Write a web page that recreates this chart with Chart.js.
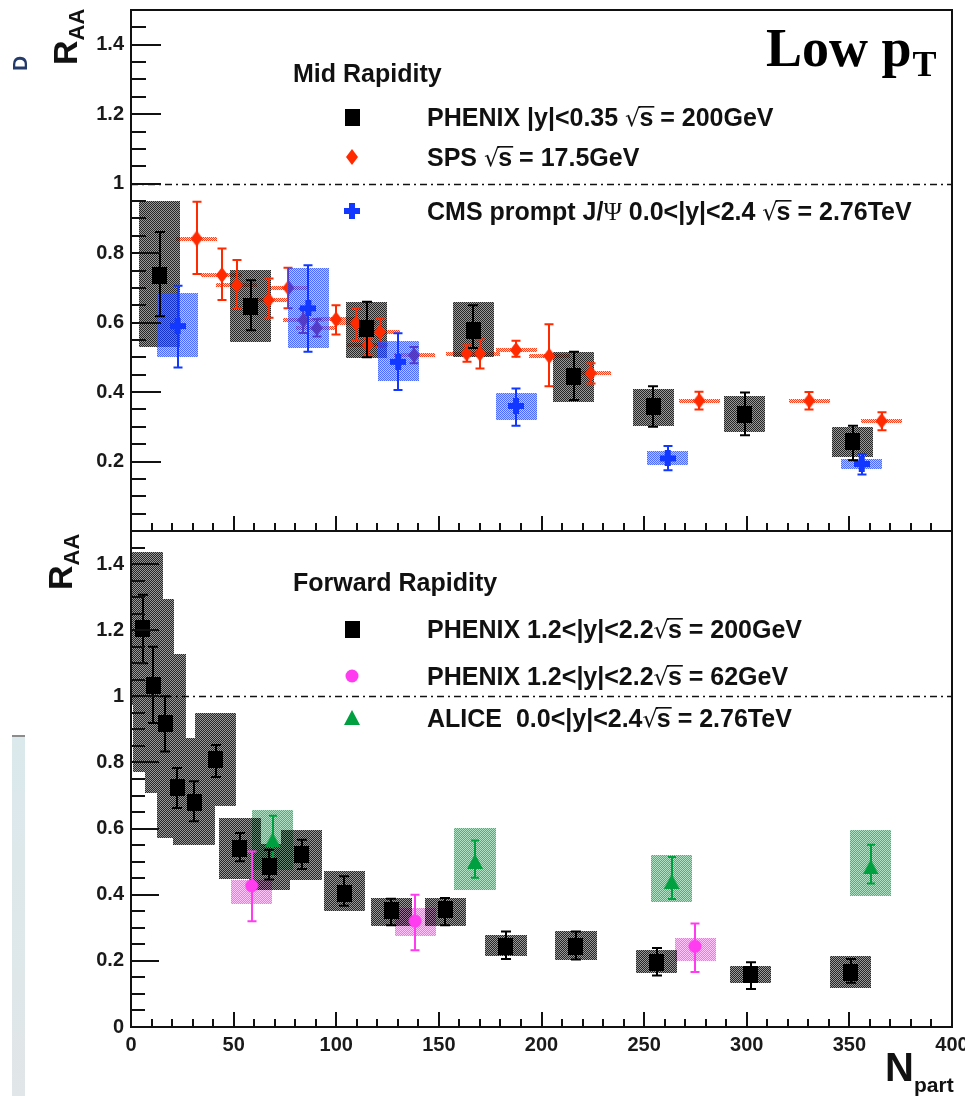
<!DOCTYPE html>
<html>
<head>
<meta charset="utf-8">
<script src="https://cdn.jsdelivr.net/npm/chart.js@4.4.0/dist/chart.umd.min.js"></script>
<style>
  html, body { margin: 0; padding: 0; background: #fff; }
  #wrap { position: relative; width: 965px; height: 1096px; overflow: hidden; }
  #side { position: absolute; left: 12px; top: 735px; width: 13px; height: 361px;
          background: linear-gradient(#dbe9ec, #e1e6e8); border-top: 2px solid #8c8c8c; }
  #topPad { position: absolute; left: 0; top: 0; }
  #botPad { position: absolute; left: 0; top: 521px; }
</style>
</head>
<body>
<div id="wrap">
  <div id="side"></div>
  <canvas id="topPad" width="965" height="540"></canvas>
  <canvas id="botPad" width="965" height="575"></canvas>
</div>
<script>
// ===== DATA: mid rapidity (top pad) =====
const midPhxN      = [14.1, 58.4, 114.8, 166.8, 215.8, 254.5, 299, 351.6];
const midPhxR      = [0.735, 0.645, 0.583, 0.576, 0.444, 0.358, 0.334, 0.257];
const midPhxStatLo = [0.618, 0.578, 0.50, 0.527, 0.377, 0.30, 0.276, 0.204];
const midPhxStatHi = [0.861, 0.722, 0.66, 0.65, 0.516, 0.417, 0.399, 0.303];
const midPhxSysLo  = [0.53, 0.545, 0.497, 0.50, 0.372, 0.302, 0.284, 0.214];
const midPhxSysHi  = [0.95, 0.751, 0.66, 0.66, 0.516, 0.408, 0.389, 0.30];

const spsN      = [32, 44.3, 51.5, 67, 76.7, 84, 90.5, 99.9, 109.6, 115.3, 121.3, 137.9, 163.5, 170, 187.6, 203.8, 224, 276.9, 330.5, 365.7];
const spsR      = [0.842, 0.737, 0.708, 0.665, 0.70, 0.607, 0.584, 0.609, 0.598, 0.535, 0.573, 0.506, 0.511, 0.511, 0.521, 0.504, 0.454, 0.375, 0.375, 0.317];
const spsStatLo = [0.74, 0.665, 0.642, 0.614, 0.641, 0.57, 0.56, 0.566, 0.55, 0.506, 0.53, 0.483, 0.487, 0.468, 0.502, 0.417, 0.425, 0.35, 0.35, 0.29];
const spsStatHi = [0.948, 0.813, 0.78, 0.727, 0.758, 0.64, 0.61, 0.65, 0.641, 0.555, 0.612, 0.53, 0.535, 0.552, 0.548, 0.595, 0.483, 0.401, 0.40, 0.342];

const cmsN      = [22.7, 86.4, 130.2, 187.6, 261.5, 356];
const cmsR      = [0.59, 0.641, 0.487, 0.36, 0.209, 0.193];
const cmsStatLo = [0.471, 0.516, 0.406, 0.303, 0.175, 0.163];
const cmsStatHi = [0.706, 0.765, 0.569, 0.41, 0.245, 0.222];
const cmsSysLo  = [0.502, 0.526, 0.432, 0.319, 0.19, 0.178];
const cmsSysHi  = [0.684, 0.756, 0.548, 0.396, 0.231, 0.206];

// ===== DATA: forward rapidity (bottom pad) =====
const fwdPhxN      = [5.7, 10.9, 16.6, 22.6, 30.7, 41.4, 53.1, 67.4, 83.2, 103.9, 126.7, 153, 182.7, 216.8, 256.1, 301.9, 350.6];
const fwdPhxR      = [1.206, 1.033, 0.917, 0.723, 0.679, 0.808, 0.541, 0.484, 0.521, 0.405, 0.353, 0.355, 0.244, 0.244, 0.196, 0.159, 0.166];
const fwdPhxStatLo = [1.10, 0.919, 0.833, 0.662, 0.622, 0.756, 0.501, 0.446, 0.478, 0.367, 0.308, 0.308, 0.206, 0.204, 0.156, 0.115, 0.134];
const fwdPhxStatHi = [1.307, 1.15, 1.0, 0.783, 0.743, 0.853, 0.587, 0.536, 0.566, 0.456, 0.388, 0.39, 0.289, 0.289, 0.239, 0.196, 0.206];
const fwdPhxSysLo  = [0.975, 0.772, 0.707, 0.572, 0.55, 0.667, 0.448, 0.415, 0.446, 0.35, 0.305, 0.305, 0.216, 0.204, 0.164, 0.134, 0.118];
const fwdPhxSysHi  = [1.437, 1.294, 1.127, 0.874, 0.81, 0.949, 0.632, 0.553, 0.597, 0.471, 0.39, 0.39, 0.277, 0.289, 0.234, 0.184, 0.216];

const phx62N      = [58.8, 138.4, 274.8];
const phx62R      = [0.427, 0.32, 0.244];
const phx62StatLo = [0.32, 0.232, 0.166];
const phx62StatHi = [0.531, 0.40, 0.313];
const phx62SysLo  = [0.373, 0.274, 0.199];
const phx62SysHi  = [0.446, 0.36, 0.27];

const aliceN      = [69, 167.6, 263.4, 360.4];
const aliceR      = [0.566, 0.501, 0.44, 0.484];
const aliceStatLo = [0.501, 0.451, 0.387, 0.434];
const aliceStatHi = [0.639, 0.564, 0.514, 0.551];
const aliceSysLo  = [0.475, 0.415, 0.377, 0.397];
const aliceSysHi  = [0.657, 0.602, 0.521, 0.595];

const BOX_HALF = 10;          // half width of systematic boxes, in Npart
const BOT_TOP = 521;          // offset of the bottom canvas

const C_RED = '#ff2a00', C_BLUE = '#1238ff', C_MAG = '#ff3cf0', C_GREEN = '#00a040';
const LABEL_FONT = 'bold 25px "Liberation Sans"';
const ROOT_S = '\u221As', PSI = '\u03A8';

Chart.defaults.font.family = '"Liberation Sans", Arial, sans-serif';

// ----- marker images -----
function mk(w, h, draw) {
  const c = document.createElement('canvas'); c.width = w; c.height = h;
  draw(c.getContext('2d')); return c;
}
const mSquare  = mk(15, 17, g => { g.fillStyle = '#000'; g.fillRect(0, 0, 15, 17); });
const mDiamond = mk(12, 16, g => { g.fillStyle = C_RED; g.beginPath(); g.moveTo(6, 0); g.lineTo(12, 8); g.lineTo(6, 16); g.lineTo(0, 8); g.closePath(); g.fill(); });
const mCross   = mk(16, 16, g => { g.fillStyle = C_BLUE; g.fillRect(5, 0, 6, 16); g.fillRect(0, 5, 16, 6); });
const mCircle  = mk(14, 14, g => { g.fillStyle = C_MAG; g.beginPath(); g.arc(7, 7, 6.5, 0, Math.PI * 2); g.fill(); });
const mTri     = mk(16, 15, g => { g.fillStyle = C_GREEN; g.beginPath(); g.moveTo(8, 0); g.lineTo(16, 15); g.lineTo(0, 15); g.closePath(); g.fill(); });

// soft dotted fill, like ROOT's 3001 style seen at low resolution
function checker(color, hi, lo) {
  return mk(2, 2, g => {
    g.fillStyle = color;
    g.globalAlpha = hi; g.fillRect(0, 0, 1, 1); g.fillRect(1, 1, 1, 1);
    g.globalAlpha = lo; g.fillRect(1, 0, 1, 1); g.fillRect(0, 1, 1, 1);
  });
}

function pts(ns, rs) { return ns.map((n, i) => ({ x: n, y: rs[i] })); }

// ----- drawing helpers -----
function clipArea(chart) {
  const a = chart.chartArea;
  chart.ctx.beginPath(); chart.ctx.rect(a.left, a.top, a.right - a.left, a.bottom - a.top); chart.ctx.clip();
}

// all boxes of one series go into one path, so overlaps don't stack up
function drawBoxes(chart, ns, lo, hi, color, aHi, aLo) {
  const { ctx, scales: { x, y } } = chart;
  ctx.save(); clipArea(chart);
  ctx.fillStyle = ctx.createPattern(checker(color, aHi, aLo), 'repeat');
  ctx.beginPath();
  ns.forEach((n, i) => {
    const x0 = Math.round(x.getPixelForValue(n - BOX_HALF)), x1 = Math.round(x.getPixelForValue(n + BOX_HALF));
    const y0 = Math.round(y.getPixelForValue(hi[i])), y1 = Math.round(y.getPixelForValue(lo[i]));
    ctx.rect(x0, y0, x1 - x0, y1 - y0);
  });
  ctx.fill('nonzero');
  ctx.restore();
}

function drawXHatch(chart, ns, rs, color) {
  const { ctx, scales: { x, y } } = chart;
  ctx.save(); clipArea(chart);
  ctx.fillStyle = ctx.createPattern(checker(color, 0.9, 0.2), 'repeat');
  ctx.beginPath();
  ns.forEach((n, i) => {
    const x0 = Math.round(x.getPixelForValue(n - BOX_HALF)), x1 = Math.round(x.getPixelForValue(n + BOX_HALF));
    const py = Math.round(y.getPixelForValue(rs[i]));
    ctx.rect(x0, py - 2, x1 - x0, 4);
  });
  ctx.fill('nonzero');
  ctx.restore();
}

function drawErrors(chart, ns, lo, hi, color, cap) {
  const { ctx, scales: { x, y } } = chart;
  ctx.save(); clipArea(chart);
  ctx.strokeStyle = color; ctx.lineWidth = 2;
  ctx.beginPath();
  ns.forEach((n, i) => {
    const px = Math.round(x.getPixelForValue(n));
    const y0 = y.getPixelForValue(hi[i]), y1 = y.getPixelForValue(lo[i]);
    ctx.moveTo(px, y0); ctx.lineTo(px, y1);
    ctx.moveTo(px - cap / 2, y0); ctx.lineTo(px + cap / 2, y0);
    ctx.moveTo(px - cap / 2, y1); ctx.lineTo(px + cap / 2, y1);
  });
  ctx.stroke();
  ctx.restore();
}

function drawUnity(chart) {
  const { ctx, chartArea: a, scales: { y } } = chart;
  const py = Math.round(y.getPixelForValue(1)) + 0.5;
  ctx.save();
  ctx.strokeStyle = '#111'; ctx.lineWidth = 1.6; ctx.setLineDash([7, 4, 2, 4]);
  ctx.beginPath(); ctx.moveTo(a.left, py); ctx.lineTo(a.right, py); ctx.stroke();
  ctx.restore();
}

// frame plus inward ROOT-style ticks
function drawFrame(chart, yMaj, yMin) {
  const { ctx, chartArea: a, scales: { x, y } } = chart;
  ctx.save();
  ctx.strokeStyle = '#111'; ctx.lineWidth = 2;
  ctx.strokeRect(a.left, a.top, a.right - a.left, a.bottom - a.top);
  ctx.beginPath();
  for (let k = 1; k < 30; k++) {
    const py = Math.round(y.getPixelForValue(k * 0.05));
    ctx.moveTo(a.left, py); ctx.lineTo(a.left + (k % 4 === 0 ? yMaj : yMin), py);
  }
  for (let k = 1; k < 40; k++) {
    const px = Math.round(x.getPixelForValue(k * 10));
    ctx.moveTo(px, a.bottom); ctx.lineTo(px, a.bottom - (k % 5 === 0 ? 15 : 8));
  }
  ctx.stroke();
  ctx.restore();
}

function drawRow(ctx, x, y, pieces) {
  let cx = x;
  ctx.fillStyle = '#111'; ctx.strokeStyle = '#111';
  ctx.textAlign = 'left'; ctx.textBaseline = 'alphabetic';
  pieces.forEach(p => {
    if (p === ROOT_S) {
      ctx.font = '24px "DejaVu Sans"';
      ctx.fillText('\u221A', cx, y);
      const rw = ctx.measureText('\u221A').width;
      ctx.font = LABEL_FONT;
      const sw = ctx.measureText('s').width;
      ctx.fillText('s', cx + rw - 1, y);
      ctx.fillRect(cx + rw - 2, y - 20, sw + 2, 1.6);
      cx += rw - 1 + sw;
    } else if (p === PSI) {
      ctx.font = '25px "Liberation Serif"';
      ctx.fillText(PSI, cx, y);
      cx += ctx.measureText(PSI).width;
    } else {
      ctx.font = LABEL_FONT;
      ctx.fillText(p, cx, y);
      cx += ctx.measureText(p).width;
    }
  });
}

function drawRAA(ctx, ox, oy) {
  ctx.save();
  ctx.translate(ox, oy); ctx.rotate(-Math.PI / 2);
  ctx.fillStyle = '#111'; ctx.textAlign = 'left'; ctx.textBaseline = 'alphabetic';
  ctx.font = 'bold 34px "Liberation Sans"';
  ctx.fillText('R', 0, 0);
  const w = ctx.measureText('R').width;
  ctx.font = 'bold 22px "Liberation Sans"';
  ctx.fillText('AA', w, 7);
  ctx.restore();
}

function tickLabel(v) { return String(Math.round(v * 10) / 10); }

function baseOptions(padding, showX, hideZero) {
  return {
    responsive: false, animation: false, devicePixelRatio: 1,
    layout: { padding },
    plugins: { legend: { display: false }, tooltip: { enabled: false } },
    scales: {
      x: {
        type: 'linear', min: 0, max: 400, display: showX,
        grid: { display: false, drawTicks: false }, border: { display: false },
        ticks: { stepSize: 50, includeBounds: false, maxRotation: 0, padding: 6, color: '#1a1a1a',
                 font: { size: 20, weight: 'bold' }, callback: v => String(v) },
        afterFit: s => {
          if (showX) s.height = 69;
          s.paddingLeft = 0; s.paddingRight = 0;
        }
      },
      y: {
        type: 'linear', min: 0, max: 1.5,
        grid: { display: false, drawTicks: false }, border: { display: false },
        ticks: { stepSize: 0.2, includeBounds: false, padding: 7, color: '#1a1a1a',
                 font: { size: 20, weight: 'bold' },
                 callback: v => (hideZero && Math.abs(v) < 1e-6) ? '' : tickLabel(v) },
        afterFit: s => { s.width = 131; s.paddingTop = 0; s.paddingBottom = 0; }
      }
    }
  };
}

// ===== top pad: mid rapidity =====
const topPlugin = {
  id: 'midPad',
  beforeDatasetsDraw(chart) {
    drawUnity(chart);
    drawXHatch(chart, spsN, spsR, C_RED);
    drawBoxes(chart, midPhxN, midPhxSysLo, midPhxSysHi, '#000', 0.85, 0.4);
  },
  beforeDatasetDraw(chart, args) {
    if (args.index === 1) drawErrors(chart, spsN, spsStatLo, spsStatHi, C_RED, 9);
    if (args.index === 2) {
      drawBoxes(chart, cmsN, cmsSysLo, cmsSysHi, C_BLUE, 0.75, 0.3);
      drawErrors(chart, cmsN, cmsStatLo, cmsStatHi, C_BLUE, 9);
    }
    if (args.index === 0) drawErrors(chart, midPhxN, midPhxStatLo, midPhxStatHi, '#000', 10);
  },
  afterDraw(chart) {
    const ctx = chart.ctx;
    drawFrame(chart, 30, 15);
    drawRAA(ctx, 77, 65);
    ctx.save();
    ctx.translate(27, 71); ctx.rotate(-Math.PI / 2);
    ctx.fillStyle = '#243a6b'; ctx.font = 'bold 21px "Liberation Sans"';
    ctx.fillText('D', 0, 0);
    ctx.restore();

    ctx.save();
    ctx.fillStyle = '#000'; ctx.textBaseline = 'alphabetic';
    ctx.font = 'bold 54px "Liberation Serif"';
    ctx.fillText('Low p', 766, 66);
    const lw = ctx.measureText('Low p').width;
    ctx.font = 'bold 36px "Liberation Serif"';
    ctx.fillText('T', 766 + lw + 1, 76);

    ctx.font = LABEL_FONT; ctx.fillStyle = '#111';
    ctx.fillText('Mid Rapidity', 293, 82);
    ctx.drawImage(mSquare, 345, 109);
    ctx.drawImage(mDiamond, 346, 149);
    ctx.drawImage(mCross, 344, 203);
    drawRow(ctx, 427, 126, ['PHENIX |y|<0.35 ', ROOT_S, ' = 200GeV']);
    drawRow(ctx, 427, 166, ['SPS ', ROOT_S, ' = 17.5GeV']);
    drawRow(ctx, 427, 220, ['CMS prompt J/', PSI, ' 0.0<|y|<2.4 ', ROOT_S, ' = 2.76TeV']);
    ctx.restore();
  }
};

new Chart(document.getElementById('topPad'), {
  type: 'scatter',
  data: {
    datasets: [
      { label: 'PHENIX |y|<0.35', data: pts(midPhxN, midPhxR), pointStyle: mSquare, pointRadius: 6, order: 1 },
      { label: 'SPS', data: pts(spsN, spsR), pointStyle: mDiamond, pointRadius: 6, order: 3 },
      { label: 'CMS prompt J/psi', data: pts(cmsN, cmsR), pointStyle: mCross, pointRadius: 6, order: 2 }
    ]
  },
  options: baseOptions({ left: 0, right: 13, top: 10, bottom: 9 }, false, true),
  plugins: [topPlugin]
});

// ===== bottom pad: forward rapidity =====
const botPlugin = {
  id: 'fwdPad',
  beforeDatasetsDraw(chart) {
    drawUnity(chart);
    drawBoxes(chart, aliceN, aliceSysLo, aliceSysHi, C_GREEN, 0.75, 0.3);
    drawBoxes(chart, phx62N, phx62SysLo, phx62SysHi, C_MAG, 0.75, 0.3);
    drawBoxes(chart, fwdPhxN, fwdPhxSysLo, fwdPhxSysHi, '#000', 0.85, 0.4);
  },
  beforeDatasetDraw(chart, args) {
    if (args.index === 2) drawErrors(chart, aliceN, aliceStatLo, aliceStatHi, C_GREEN, 8);
    if (args.index === 1) drawErrors(chart, phx62N, phx62StatLo, phx62StatHi, C_MAG, 9);
    if (args.index === 0) drawErrors(chart, fwdPhxN, fwdPhxStatLo, fwdPhxStatHi, '#000', 10);
  },
  afterDraw(chart) {
    const ctx = chart.ctx;
    drawFrame(chart, 28, 14);
    drawRAA(ctx, 72, 590 - BOT_TOP);

    ctx.save();
    ctx.fillStyle = '#111'; ctx.textBaseline = 'alphabetic';
    ctx.font = 'bold 40px "Liberation Sans"';
    ctx.fillText('N', 885, 1081 - BOT_TOP);
    ctx.font = 'bold 21px "Liberation Sans"';
    ctx.fillText('part', 914, 1092 - BOT_TOP);

    ctx.font = LABEL_FONT;
    ctx.fillText('Forward Rapidity', 293, 591 - BOT_TOP);
    ctx.drawImage(mSquare, 345, 621 - BOT_TOP);
    ctx.drawImage(mCircle, 345, 669 - BOT_TOP);
    ctx.drawImage(mTri, 344, 710 - BOT_TOP);
    drawRow(ctx, 427, 638 - BOT_TOP, ['PHENIX 1.2<|y|<2.2', ROOT_S, ' = 200GeV']);
    drawRow(ctx, 427, 685 - BOT_TOP, ['PHENIX 1.2<|y|<2.2', ROOT_S, ' = 62GeV']);
    drawRow(ctx, 427, 727 - BOT_TOP, ['ALICE  0.0<|y|<2.4', ROOT_S, ' = 2.76TeV']);
    ctx.restore();
  }
};

new Chart(document.getElementById('botPad'), {
  type: 'scatter',
  data: {
    datasets: [
      { label: 'PHENIX 200GeV', data: pts(fwdPhxN, fwdPhxR), pointStyle: mSquare, pointRadius: 6, order: 1 },
      { label: 'PHENIX 62GeV', data: pts(phx62N, phx62R), pointStyle: mCircle, pointRadius: 6, order: 2 },
      { label: 'ALICE', data: pts(aliceN, aliceR), pointStyle: mTri, pointRadius: 6, order: 3 }
    ]
  },
  options: baseOptions({ left: 0, right: 13, top: 10, bottom: 0 }, true, false),
  plugins: [botPlugin]
});
</script>
</body>
</html>
